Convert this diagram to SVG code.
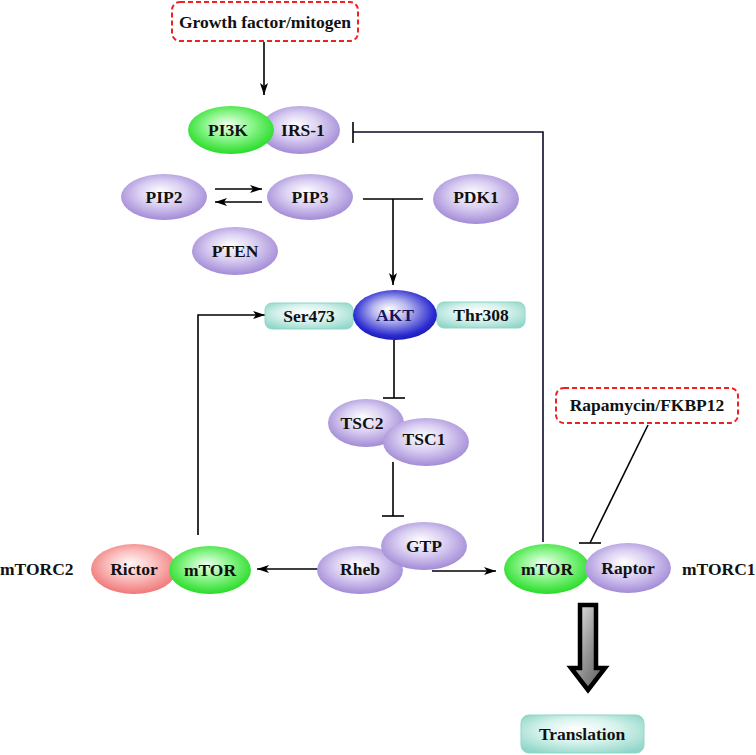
<svg xmlns="http://www.w3.org/2000/svg" width="756" height="755" viewBox="0 0 756 755">
<defs>
<radialGradient id="gPurple" cx="0.5" cy="0.45" r="0.6" fx="0.45" fy="0.38">
<stop offset="0" stop-color="#ffffff"/>
<stop offset="0.45" stop-color="#dacff2"/>
<stop offset="1" stop-color="#9a80d2"/>
</radialGradient>
<radialGradient id="gGreen" cx="0.5" cy="0.45" r="0.6" fx="0.45" fy="0.38">
<stop offset="0" stop-color="#f0fff0"/>
<stop offset="0.45" stop-color="#8df58d"/>
<stop offset="1" stop-color="#18d818"/>
</radialGradient>
<radialGradient id="gRed" cx="0.5" cy="0.45" r="0.6" fx="0.45" fy="0.38">
<stop offset="0" stop-color="#fff6f6"/>
<stop offset="0.45" stop-color="#fbc0c0"/>
<stop offset="1" stop-color="#ee6c6c"/>
</radialGradient>
<radialGradient id="gBlue" cx="0.5" cy="0.45" r="0.6" fx="0.42" fy="0.38">
<stop offset="0" stop-color="#ffffff"/>
<stop offset="0.35" stop-color="#b8b8ee"/>
<stop offset="0.8" stop-color="#2a2ad0"/>
<stop offset="1" stop-color="#1212a8"/>
</radialGradient>
<radialGradient id="gTeal" cx="0.5" cy="0.45" r="0.65" fx="0.45" fy="0.35">
<stop offset="0" stop-color="#ffffff"/>
<stop offset="0.5" stop-color="#d6f2ec"/>
<stop offset="1" stop-color="#8fd6c8"/>
</radialGradient>
<linearGradient id="gArrow" x1="0" y1="0" x2="1" y2="1">
<stop offset="0" stop-color="#f2f2f2"/>
<stop offset="0.5" stop-color="#9a9a9a"/>
<stop offset="1" stop-color="#555555"/>
</linearGradient>
<marker id="ah" viewBox="0 0 12 8" refX="12" refY="4" markerWidth="12" markerHeight="8" markerUnits="userSpaceOnUse" orient="auto">
<path d="M0,0 L12,4 L0,8 L3,4 Z" fill="#000"/>
</marker>
</defs>
<style>
text { font-family: "Liberation Serif", "Times New Roman", serif; font-weight: bold; font-size: 17.5px; fill: #111; text-anchor: middle; }
.pu { fill: url(#gPurple); }
.gr { fill: url(#gGreen); }
.rd { fill: url(#gRed); }
.bl { fill: url(#gBlue); }
.tl { fill: url(#gTeal); stroke: #8fd6c8; stroke-width: 1; }
.dash { fill: #fff; stroke: #ee2222; stroke-width: 2; stroke-dasharray: 5,3; }
.ln { fill: none; stroke: #000; stroke-width: 1.6; }
.arr { fill: none; stroke: #000; stroke-width: 1.6; marker-end: url(#ah); }
.lab { text-anchor: start; }
</style>

<g id="connectors">
<line class="arr" x1="264" y1="42" x2="264" y2="95"/>
<polyline class="ln" points="543,542 543,132 353,132" style="stroke:#0a0a2a"/>
<line class="ln" x1="353" y1="122" x2="353" y2="143"/>
<line class="arr" x1="215" y1="189" x2="262" y2="189"/>
<line class="arr" x1="262" y1="202" x2="215" y2="202"/>
<line class="ln" x1="363" y1="199" x2="423" y2="199"/>
<line class="arr" x1="393" y1="199" x2="393" y2="285"/>
<line class="ln" x1="394" y1="340" x2="394" y2="398"/>
<line class="ln" x1="383" y1="398" x2="405" y2="398"/>
<line class="ln" x1="393" y1="462" x2="393" y2="516"/>
<line class="ln" x1="382" y1="516" x2="404" y2="516"/>
<polyline class="arr" points="198,535 198,315 265,315"/>
<line class="arr" x1="318" y1="569" x2="257" y2="569"/>
<line class="arr" x1="432" y1="571" x2="496" y2="571"/>
<line class="ln" x1="648" y1="425" x2="590" y2="543"/>
<line class="ln" x1="579" y1="543" x2="601" y2="543"/>
<polygon points="580,605 596,605 596,668 605,668 588,690 571,668 580,668" fill="url(#gArrow)" stroke="#000" stroke-width="4.5" stroke-linejoin="miter"/>
</g>

<g id="growth-factor">
<rect class="dash" x="172" y="2" width="186" height="39" rx="8"/>
<text x="265" y="28">Growth factor/mitogen</text>
</g>

<g id="irs1">
<ellipse class="pu" cx="300" cy="130" rx="40" ry="24"/>
<text x="303" y="136">IRS-1</text>
</g>
<g id="pi3k">
<ellipse class="gr" cx="231" cy="130" rx="43" ry="24"/>
<text x="228" y="136">PI3K</text>
</g>

<g id="pip2">
<ellipse class="pu" cx="164" cy="197" rx="43" ry="23"/>
<text x="164" y="203">PIP2</text>
</g>
<g id="pip3">
<ellipse class="pu" cx="310" cy="197" rx="43" ry="23"/>
<text x="310" y="203">PIP3</text>
</g>
<g id="pdk1">
<ellipse class="pu" cx="476" cy="199" rx="43" ry="25"/>
<text x="476" y="203">PDK1</text>
</g>
<g id="pten">
<ellipse class="pu" cx="235" cy="251" rx="43" ry="24"/>
<text x="235" y="257">PTEN</text>
</g>

<g id="ser473">
<rect class="tl" x="265" y="303" width="88" height="26" rx="7"/>
<text x="309" y="322">Ser473</text>
</g>
<g id="thr308">
<rect class="tl" x="437" y="302" width="88" height="26" rx="7"/>
<text x="481" y="321">Thr308</text>
</g>
<g id="akt">
<ellipse class="bl" cx="395" cy="315" rx="42" ry="25"/>
<text x="395" y="321" style="fill:#141460">AKT</text>
</g>

<g id="tsc2">
<ellipse class="pu" cx="366" cy="423" rx="38" ry="24"/>
<text x="362" y="429">TSC2</text>
</g>
<g id="tsc1">
<ellipse class="pu" cx="426" cy="442" rx="43" ry="24"/>
<text x="424" y="445">TSC1</text>
</g>

<g id="rheb">
<ellipse class="pu" cx="360" cy="570" rx="43" ry="24"/>
<text x="360" y="575">Rheb</text>
</g>
<g id="gtp">
<ellipse class="pu" cx="424" cy="546" rx="43" ry="24"/>
<text x="424" y="552">GTP</text>
</g>

<g id="rictor">
<ellipse class="rd" cx="134" cy="569" rx="43" ry="25"/>
<text x="134" y="575">Rictor</text>
</g>
<g id="mtor2">
<ellipse class="gr" cx="210" cy="570" rx="41" ry="24"/>
<text x="210" y="576">mTOR</text>
</g>
<g id="mtorc2-label">
<text class="lab" x="0" y="575">mTORC2</text>
</g>

<g id="mtor1">
<ellipse class="gr" cx="547" cy="569" rx="43" ry="25"/>
<text x="547" y="575">mTOR</text>
</g>
<g id="raptor">
<ellipse class="pu" cx="628" cy="568" rx="43" ry="25"/>
<text x="628" y="574">Raptor</text>
</g>
<g id="mtorc1-label">
<text class="lab" x="682" y="575">mTORC1</text>
</g>

<g id="rapamycin">
<rect class="dash" x="556" y="388" width="182" height="35" rx="8"/>
<text x="647" y="411">Rapamycin/FKBP12</text>
</g>

<g id="translation">
<rect class="tl" x="521" y="715" width="123" height="38" rx="8"/>
<text x="582" y="740">Translation</text>
</g>
</svg>
